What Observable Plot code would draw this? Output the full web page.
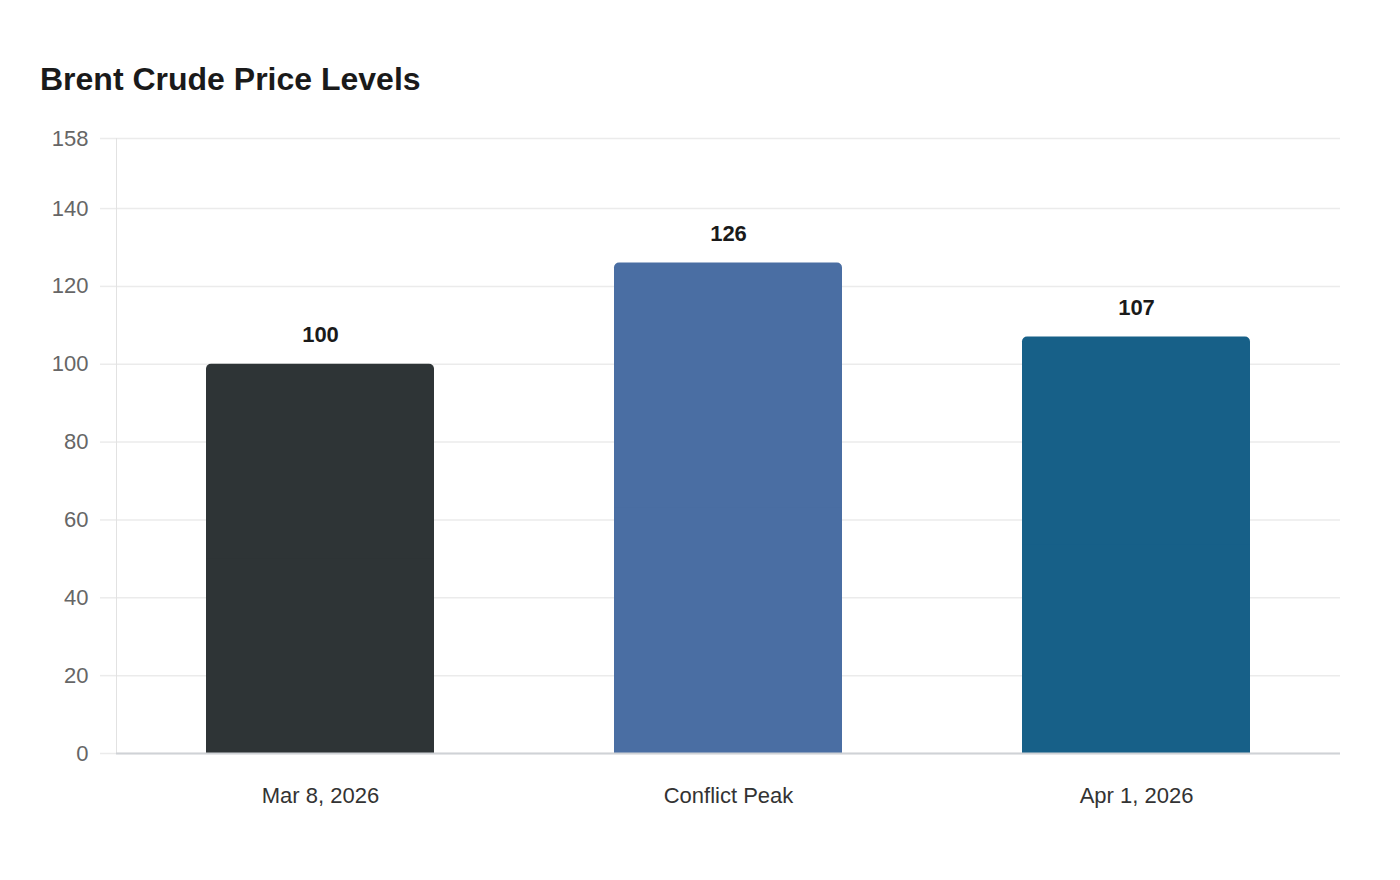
<!DOCTYPE html>
<html>
<head>
<meta charset="utf-8">
<script src="https://cdn.jsdelivr.net/npm/d3@7"></script>
<script src="https://cdn.jsdelivr.net/npm/@observablehq/plot@0.6"></script>
<style>
  html, body { margin: 0; padding: 0; background: #fff; }
  body { width: 1400px; height: 880px; overflow: hidden; font-family: "Liberation Sans", Arial, sans-serif; }
  #title { position: absolute; left: 40px; top: 63px; font-size: 32px; font-weight: bold; color: #1a1a1a; margin: 0; line-height: 1; }
  #chart { position: absolute; left: 0; top: 110px; }
</style>
</head>
<body>
<h2 id="title">Brent Crude Price Levels</h2>
<div id="chart"></div>
<script>
const categories = ["Mar 8, 2026", "Conflict Peak", "Apr 1, 2026"];
const values = [100, 126, 107];
const colors = ["#2e3436", "#4a6ea3", "#176088"];
const yTicks = [0, 20, 40, 60, 80, 100, 120, 140, 158];

const data = categories.map((c, i) => ({category: c, value: values[i], color: colors[i]}));

const chart = Plot.plot({
  width: 1400,
  height: 760,
  marginTop: 28,
  marginBottom: 117,
  marginLeft: 116,
  marginRight: 60,
  style: {fontFamily: "Liberation Sans, Arial, sans-serif", background: "#fff"},
  x: {domain: categories, paddingInner: 0.44, paddingOuter: 0.22, label: null},
  y: {domain: [0, 158], label: null},
  marks: [
    Plot.gridY(yTicks, {stroke: "#ebebeb", strokeOpacity: 1, strokeWidth: 1.5}),
    Plot.frame({anchor: "left", stroke: "#e2e2e2", strokeWidth: 1}),
    Plot.barY(data, {x: "category", y: "value", fill: "color", rx: 5}),
    Plot.barY(data, {x: "category", y1: 0, y2: d => d.value / 2, fill: "color"}),
    Plot.ruleY([0], {stroke: "#cfd2d6", strokeWidth: 2}),
    Plot.text(data, {x: "category", y: "value", text: d => String(d.value), dy: -29, fontSize: 22, fontWeight: "bold", fill: "#1a1a1a"}),
    Plot.axisY({ticks: yTicks, tickSize: 16, tickPadding: 12, stroke: "#ebebeb", strokeOpacity: 1, strokeWidth: 1.5, fontSize: 22, fill: "#666", tickFormat: d => String(d)}),
    Plot.axisX({tickSize: 0, tickPadding: 34, fontSize: 22, fill: "#333"})
  ]
});
document.getElementById("chart").appendChild(chart);
</script>
</body>
</html>
